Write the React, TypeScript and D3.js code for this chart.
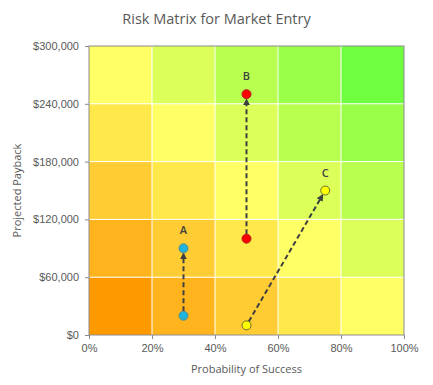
import React, { useEffect, useRef } from 'react';
import * as d3 from 'd3';

// Risk matrix data
const probBands = [0, 0.2, 0.4, 0.6, 0.8, 1.0];
const payBands = [0, 60000, 120000, 180000, 240000, 300000];
// colour by diagonal (column + row), from 0 (worst, bottom-left) to 8 (best, top-right)
const diagColors = ['#FF9900', '#FFB41E', '#FFCC33', '#FFE84A', '#FFFF66', '#DDFF5A', '#B8FF50', '#99FF48', '#70FF40'];

const projectNames = ['A', 'B', 'C'];
const startProb = [0.3, 0.5, 0.5];
const startPay = [20000, 100000, 10000];
const endProb = [0.3, 0.5, 0.75];
const endPay = [90000, 250000, 150000];
const markerColors = ['#1EB4DC', '#FF0000', '#FFFF00'];
const markerStrokes = ['#5A8A8A', '#B02020', '#6A6A30'];

const App = () => {
  const svgRef = useRef<SVGSVGElement | null>(null);

  useEffect(() => {
    const width = 433;
    const height = 385;
    const margin = { top: 46, right: 29, bottom: 50, left: 89 };
    const chartWidth = width - margin.left - margin.right;
    const chartHeight = height - margin.top - margin.bottom;

    d3.select(svgRef.current).selectAll('*').remove();

    const svg = d3.select(svgRef.current)
      .attr('width', width)
      .attr('height', height)
      .style('font-family', 'Open Sans, sans-serif');

    const g = svg.append('g')
      .attr('transform', `translate(${margin.left},${margin.top})`);

    const xScale = d3.scaleLinear().domain([0, 1]).range([0, chartWidth]);
    const yScale = d3.scaleLinear().domain([0, 300000]).range([chartHeight, 0]);

    // cells
    const cells: { c: number; r: number }[] = [];
    for (let c = 0; c < 5; c++) {
      for (let r = 0; r < 5; r++) cells.push({ c, r });
    }
    g.selectAll('.cell')
      .data(cells)
      .enter().append('rect')
      .attr('class', 'cell')
      .attr('x', d => xScale(probBands[d.c]))
      .attr('y', d => yScale(payBands[d.r + 1]))
      .attr('width', d => xScale(probBands[d.c + 1]) - xScale(probBands[d.c]))
      .attr('height', d => yScale(payBands[d.r]) - yScale(payBands[d.r + 1]))
      .attr('fill', d => diagColors[d.c + d.r]);

    // white grid lines
    g.selectAll('.vgrid')
      .data(probBands.slice(1, -1))
      .enter().append('line')
      .attr('x1', d => xScale(d)).attr('x2', d => xScale(d))
      .attr('y1', 0).attr('y2', chartHeight)
      .attr('stroke', 'white').attr('stroke-width', 1);
    g.selectAll('.hgrid')
      .data(payBands.slice(1, -1))
      .enter().append('line')
      .attr('x1', 0).attr('x2', chartWidth)
      .attr('y1', d => yScale(d)).attr('y2', d => yScale(d))
      .attr('stroke', 'white').attr('stroke-width', 1);

    // plot border
    g.append('rect')
      .attr('width', chartWidth).attr('height', chartHeight)
      .attr('fill', 'none').attr('stroke', '#8C8C8C').attr('stroke-width', 1);

    // axes
    const xAxis = g.append('g')
      .attr('transform', `translate(0,${chartHeight})`)
      .call(d3.axisBottom(xScale).tickValues(probBands).tickFormat(d3.format('.0%')).tickSize(4).tickPadding(5));
    const yAxis = g.append('g')
      .call(d3.axisLeft(yScale).tickValues(payBands).tickFormat(d => '$' + d3.format(',')(d as number)).tickSize(4).tickPadding(6));
    [xAxis, yAxis].forEach(ax => {
      ax.selectAll('path, line').attr('stroke', '#8C8C8C');
      ax.selectAll('text').attr('fill', '#595959').style('font-size', '11px');
      ax.select('.domain').remove();
    });

    // arrows
    svg.append('defs').append('marker')
      .attr('id', 'arrow')
      .attr('viewBox', '0 0 10 10')
      .attr('refX', 8).attr('refY', 5)
      .attr('markerWidth', 3.5).attr('markerHeight', 3.5)
      .attr('orient', 'auto')
      .append('path')
      .attr('d', 'M0,0 L10,5 L0,10 z')
      .attr('fill', '#404040');

    const r = 4.5;
    projectNames.forEach((name, i) => {
      const x1 = xScale(startProb[i]);
      const y1 = yScale(startPay[i]);
      const x2 = xScale(endProb[i]);
      const y2 = yScale(endPay[i]);
      const len = Math.hypot(x2 - x1, y2 - y1);
      const ux = (x2 - x1) / len;
      const uy = (y2 - y1) / len;
      g.append('line')
        .attr('x1', x1 + ux * r).attr('y1', y1 + uy * r)
        .attr('x2', x2 - ux * (r + 1)).attr('y2', y2 - uy * (r + 1))
        .attr('stroke', '#404040')
        .attr('stroke-width', 2)
        .attr('stroke-dasharray', '5,3')
        .attr('marker-end', 'url(#arrow)');
    });

    // markers
    projectNames.forEach((name, i) => {
      [[startProb[i], startPay[i]], [endProb[i], endPay[i]]].forEach(p => {
        g.append('circle')
          .attr('cx', xScale(p[0]))
          .attr('cy', yScale(p[1]))
          .attr('r', r)
          .attr('fill', markerColors[i])
          .attr('stroke', markerStrokes[i])
          .attr('stroke-width', 1);
      });
      g.append('text')
        .attr('x', xScale(endProb[i]))
        .attr('y', yScale(endPay[i]) - 14)
        .attr('text-anchor', 'middle')
        .style('font-size', '11px')
        .style('font-weight', '600')
        .attr('fill', '#404040')
        .text(name);
    });

    // title
    svg.append('text')
      .attr('x', width / 2)
      .attr('y', 24)
      .attr('text-anchor', 'middle')
      .style('font-size', '14.5px')
      .attr('fill', '#595959')
      .text('Risk Matrix for Market Entry');

    // axis titles
    svg.append('text')
      .attr('x', margin.left + chartWidth / 2)
      .attr('y', 373)
      .attr('text-anchor', 'middle')
      .style('font-size', '11px')
      .attr('fill', '#595959')
      .text('Probability of Success');

    svg.append('text')
      .attr('transform', `translate(21,${margin.top + chartHeight / 2}) rotate(-90)`)
      .attr('text-anchor', 'middle')
      .style('font-size', '11px')
      .attr('fill', '#595959')
      .text('Projected Payback');
  }, []);

  return <svg ref={svgRef} style={{ position: 'absolute', left: 0, top: 0 }}></svg>;
};

export default App;
